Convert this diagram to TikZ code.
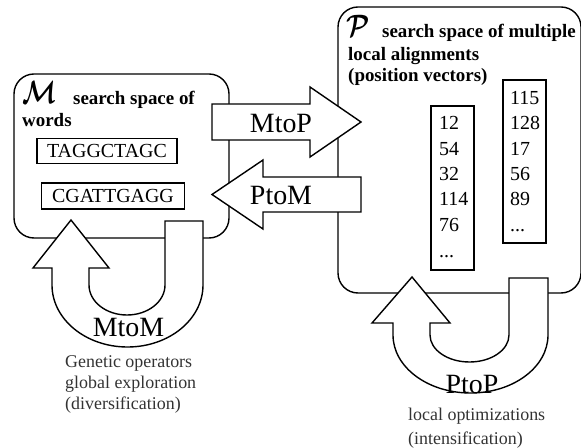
\documentclass[tikz,border=0pt]{standalone}
\usepackage{amsmath}
\usepackage{fontspec}
\setmainfont{Liberation Serif}
\usetikzlibrary{positioning}

\begin{document}
\begin{tikzpicture}[x=1bp,y=-1bp,
  spacebox/.style={draw,line width=1.4bp,rounded corners=20bp,inner sep=0pt},
  wordbox/.style={draw,line width=1.4bp,inner sep=0pt,minimum height=25bp,font=\fontsize{20}{24}\selectfont},
  colbox/.style={draw,line width=1.4bp,inner sep=0pt,minimum width=43bp},
  entry/.style={anchor=base west,inner sep=0pt,font=\fontsize{20}{24}\selectfont},
  heading/.style={anchor=base west,inner sep=0pt,font=\fontsize{19}{21}\selectfont\bfseries},
  calsym/.style={anchor=base west,inner sep=0pt,font=\fontsize{31}{31}\selectfont},
  bigarrow/.style={draw,fill=white,line width=1.4bp,line join=miter},
  opname/.style={anchor=base,inner sep=0pt,font=\fontsize{28}{30}\selectfont},
  remark/.style={anchor=north west,align=left,inner sep=0pt,text=black!80}]

  \useasboundingbox[fill=white] (0,0) rectangle (581,448);

  % search space of words (left)
  \node[spacebox,minimum width=215bp,minimum height=164bp] (Mspace) at (121.5,156) {};
  \node[calsym] (Msym) at (22,104) {\scalebox{1}[1.3]{$\boldsymbol{\mathcal{M}}$}};
  \node[heading] (Mhead) at (73,105) {search space of};
  \node[heading] (Mhead2) at (22,127) {words};
  \node[wordbox,minimum width=140bp] (word1) at (107,151) {TAGGCTAGC};
  \node[wordbox,minimum width=143bp,minimum height=26bp] (word2) at (113,196) {CGATTGAGG};

  % search space of alignments (right)
  \node[spacebox,minimum width=243bp,minimum height=286bp] (Pspace) at (459.5,150) {};
  \node[calsym] (Psym) at (346,37) {\scalebox{1.05}[1.25]{$\boldsymbol{\mathcal{P}}$}};
  \node[heading] (Phead) at (382,38) {search space of multiple};
  \node[remark,text=black,font=\fontsize{19}{21}\selectfont\bfseries] (Phead2) at (348,47.3)
       {local alignments\\(position vectors)};

  % position vectors
  \node[colbox,minimum height=164bp] (vec1) at (452.5,188) {};
  \node[entry] (v11) at (439,130) {12};
  \node[entry] (v12) at (439,156) {54};
  \node[entry] (v13) at (439,181) {32};
  \node[entry] (v14) at (439,206) {114};
  \node[entry] (v15) at (439,232) {76};
  \node[entry] (v16) at (439,258) {...};
  \node[colbox,minimum height=163bp] (vec2) at (524.5,161.5) {};
  \node[entry] (v21) at (510,105) {115};
  \node[entry] (v22) at (510,130) {128};
  \node[entry] (v23) at (510,156) {17};
  \node[entry] (v24) at (510,181) {56};
  \node[entry] (v25) at (510,206) {89};
  \node[entry] (v26) at (510,232) {...};

  % MtoP and PtoM
  \draw[bigarrow] (212,104) -- (310,104) -- (310,87) -- (361,122)
       -- (310,157) -- (310,140) -- (212,140) -- cycle;
  \node[opname] (MtoP) at (281,133) {MtoP};
  \draw[bigarrow] (361,177) -- (263,177) -- (263,160) -- (212,194.5)
       -- (263,229) -- (263,212) -- (361,212) -- cycle;
  \node[opname] (PtoM) at (281,205) {PtoM};

  % MtoM loop
  \draw[bigarrow] (71,220) -- (109,268) -- (89,268) -- (89,285)
       arc[start angle=180,end angle=360,x radius=38bp,y radius=30bp]
       -- (165,221) -- (203,221) -- (203,285)
       arc[start angle=0,end angle=-180,x radius=75.5bp,y radius=62bp]
       -- (52,268) -- (33,268) -- cycle;
  \node[opname] (MtoM) at (128.5,336) {MtoM};
  \node[remark,font=\fontsize{18}{20.8}\selectfont] (Mnote) at (65,355.7)
       {Genetic operators\\global exploration\\(diversification)};

  % PtoP loop
  \draw[bigarrow] (412,277) -- (450,323) -- (430,323) -- (430,335)
       arc[start angle=180,end angle=360,x radius=39.5bp,y radius=27bp]
       -- (509,278) -- (548,278) -- (548,335)
       arc[start angle=0,end angle=-180,x radius=77.5bp,y radius=58bp]
       -- (393,323) -- (372,323) -- cycle;
  \node[opname] (PtoP) at (472,393) {PtoP};
  \node[remark,font=\fontsize{18}{23.5}\selectfont] (Pnote) at (408,408.2)
       {local optimizations\\(intensification)};
\end{tikzpicture}
\end{document}
